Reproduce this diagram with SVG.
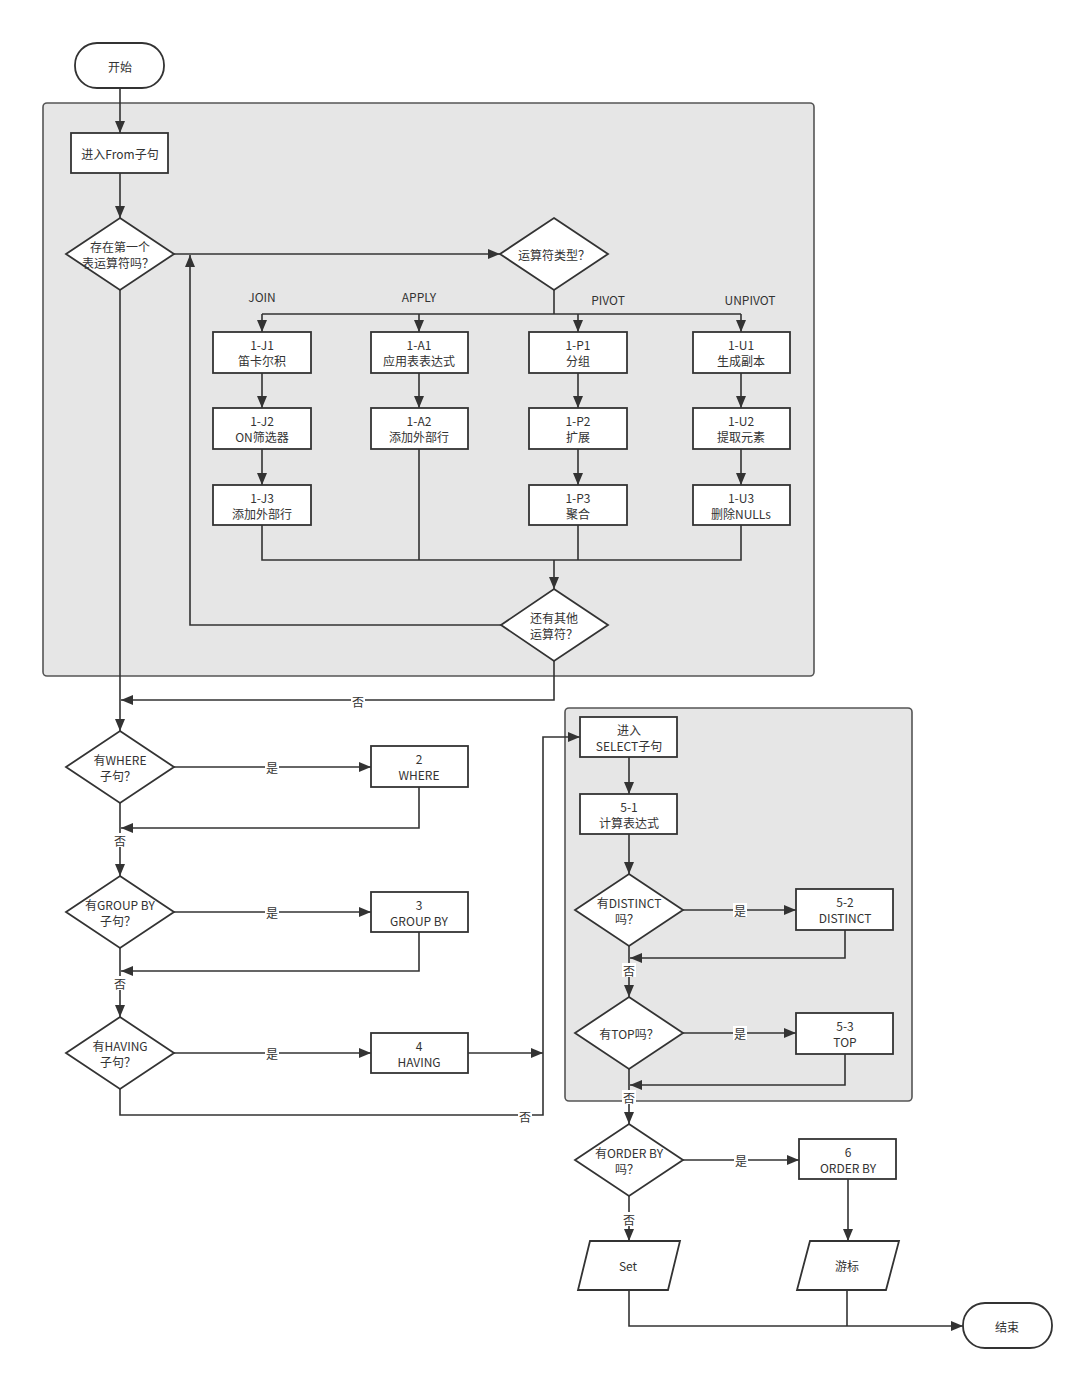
<svg xmlns="http://www.w3.org/2000/svg" width="1080" height="1376" viewBox="0 0 1080 1376">
<style>
.t{font-family:"Noto Sans CJK SC","Microsoft YaHei",sans-serif;font-size:12px;fill:#333;text-anchor:middle;dominant-baseline:central}
.n{fill:#fff;stroke:#333;stroke-width:1.8}
.c{fill:none;stroke:#333;stroke-width:1.6}
.g{fill:#e6e6e6;stroke:#555;stroke-width:1.6}
.lb{fill:#fff}
</style>
<defs>
<marker id="a" markerWidth="12" markerHeight="10" refX="12" refY="5" orient="auto" markerUnits="userSpaceOnUse"><path d="M0,0 L12,5 L0,10 z" fill="#333"/></marker>
</defs>
<rect width="1080" height="1376" fill="#fff"/>
<g id="containers">
<rect id="from-group" class="g" x="43" y="103" width="771" height="573" rx="4"/>
<rect id="select-group" class="g" x="565" y="708" width="347" height="393" rx="4"/>
</g>
<g id="connectors">
<path class="c" marker-end="url(#a)" d="M120,88 V133"/>
<path class="c" marker-end="url(#a)" d="M120,173 V218"/>
<path class="c" marker-end="url(#a)" d="M174,254 H500"/>
<path class="c" d="M554,290 V314 M262,314 H741"/>
<path class="c" marker-end="url(#a)" d="M262,314 V332"/>
<path class="c" marker-end="url(#a)" d="M419,314 V332"/>
<path class="c" marker-end="url(#a)" d="M578,314 V332"/>
<path class="c" marker-end="url(#a)" d="M741,314 V332"/>
<path class="c" marker-end="url(#a)" d="M262,373 V408"/>
<path class="c" marker-end="url(#a)" d="M419,373 V408"/>
<path class="c" marker-end="url(#a)" d="M578,373 V408"/>
<path class="c" marker-end="url(#a)" d="M741,373 V408"/>
<path class="c" marker-end="url(#a)" d="M262,449 V485"/>
<path class="c" marker-end="url(#a)" d="M578,449 V485"/>
<path class="c" marker-end="url(#a)" d="M741,449 V485"/>
<path class="c" d="M262,525 V560 H741 V525 M419,449 V560 M578,525 V560"/>
<path class="c" marker-end="url(#a)" d="M554,560 V589"/>
<path class="c" marker-end="url(#a)" d="M501,625 H190 V255"/>
<path class="c" marker-end="url(#a)" d="M554,661 V700 H121"/>
<path class="c" marker-end="url(#a)" d="M120,290 V731"/>
<path class="c" marker-end="url(#a)" d="M174,767 H371"/>
<path class="c" marker-end="url(#a)" d="M419,787 V828 H121"/>
<path class="c" marker-end="url(#a)" d="M120,803 V876"/>
<path class="c" marker-end="url(#a)" d="M174,912 H371"/>
<path class="c" marker-end="url(#a)" d="M419,932 V971 H121"/>
<path class="c" marker-end="url(#a)" d="M120,948 V1017"/>
<path class="c" marker-end="url(#a)" d="M174,1053 H371"/>
<path class="c" marker-end="url(#a)" d="M468,1053 H543"/>
<path class="c" marker-end="url(#a)" d="M120,1089 V1115 H543 V737 H580"/>
<path class="c" marker-end="url(#a)" d="M629,757 V794"/>
<path class="c" marker-end="url(#a)" d="M629,834 V874"/>
<path class="c" marker-end="url(#a)" d="M683,910 H796"/>
<path class="c" marker-end="url(#a)" d="M845,930 V958 H630"/>
<path class="c" marker-end="url(#a)" d="M629,946 V997"/>
<path class="c" marker-end="url(#a)" d="M683,1033 H796"/>
<path class="c" marker-end="url(#a)" d="M845,1054 V1085 H630"/>
<path class="c" marker-end="url(#a)" d="M629,1069 V1124"/>
<path class="c" marker-end="url(#a)" d="M683,1160 H799"/>
<path class="c" marker-end="url(#a)" d="M848,1179 V1241"/>
<path class="c" marker-end="url(#a)" d="M629,1196 V1241"/>
<path class="c" d="M847,1290 V1326"/>
<path class="c" marker-end="url(#a)" d="M629,1290 V1326 H963"/>
</g>
<g id="labels">
<text class="t" x="262" y="296">JOIN</text>
<text class="t" x="419" y="296">APPLY</text>
<text class="t" x="608" y="299">PIVOT</text>
<text class="t" x="750" y="299">UNPIVOT</text>
<rect class="lb" x="351" y="694" width="14" height="14"/><text class="t" x="358" y="701">否</text>
<rect class="lb" x="265" y="760" width="14" height="14"/><text class="t" x="272" y="767">是</text>
<rect class="lb" x="113" y="833" width="14" height="14"/><text class="t" x="120" y="840">否</text>
<rect class="lb" x="265" y="905" width="14" height="14"/><text class="t" x="272" y="912">是</text>
<rect class="lb" x="113" y="976" width="14" height="14"/><text class="t" x="120" y="983">否</text>
<rect class="lb" x="265" y="1046" width="14" height="14"/><text class="t" x="272" y="1053">是</text>
<rect class="lb" x="518" y="1109" width="14" height="14"/><text class="t" x="525" y="1116">否</text>
<rect class="lb" x="733" y="903" width="14" height="14"/><text class="t" x="740" y="910">是</text>
<rect class="lb" x="622" y="963" width="14" height="14"/><text class="t" x="629" y="970">否</text>
<rect class="lb" x="733" y="1026" width="14" height="14"/><text class="t" x="740" y="1033">是</text>
<rect class="lb" x="622" y="1090" width="14" height="14"/><text class="t" x="629" y="1097">否</text>
<rect class="lb" x="734" y="1153" width="14" height="14"/><text class="t" x="741" y="1160">是</text>
<rect class="lb" x="622" y="1212" width="14" height="14"/><text class="t" x="629" y="1219">否</text>
</g>
<g id="start"><rect class="n" x="75" y="43" width="89" height="45" rx="22"/><text class="t" x="120" y="66">开始</text></g>
<g id="from"><rect class="n" x="71" y="133" width="97" height="40"/><text class="t" x="120" y="153">进入From子句</text></g>
<g id="d-first"><polygon class="n" points="120,218 174,254 120,290 66,254"/><text class="t" x="120" y="246">存在第一个</text><text class="t" x="118" y="262">表运算符吗？</text></g>
<g id="d-type"><polygon class="n" points="554,218 608,254 554,290 500,254"/><text class="t" x="554" y="254">运算符类型？</text></g>
<g id="j1"><rect class="n" x="213" y="332" width="98" height="41"/><text class="t" x="262" y="344">1-J1</text><text class="t" x="262" y="360">笛卡尔积</text></g>
<g id="a1"><rect class="n" x="371" y="332" width="97" height="41"/><text class="t" x="419" y="344">1-A1</text><text class="t" x="419" y="360">应用表表达式</text></g>
<g id="p1"><rect class="n" x="529" y="332" width="98" height="41"/><text class="t" x="578" y="344">1-P1</text><text class="t" x="578" y="360">分组</text></g>
<g id="u1"><rect class="n" x="693" y="332" width="97" height="41"/><text class="t" x="741" y="344">1-U1</text><text class="t" x="741" y="360">生成副本</text></g>
<g id="j2"><rect class="n" x="213" y="408" width="98" height="41"/><text class="t" x="262" y="420">1-J2</text><text class="t" x="262" y="436">ON筛选器</text></g>
<g id="a2"><rect class="n" x="371" y="408" width="97" height="41"/><text class="t" x="419" y="420">1-A2</text><text class="t" x="419" y="436">添加外部行</text></g>
<g id="p2"><rect class="n" x="529" y="408" width="98" height="41"/><text class="t" x="578" y="420">1-P2</text><text class="t" x="578" y="436">扩展</text></g>
<g id="u2"><rect class="n" x="693" y="408" width="97" height="41"/><text class="t" x="741" y="420">1-U2</text><text class="t" x="741" y="436">提取元素</text></g>
<g id="j3"><rect class="n" x="213" y="485" width="98" height="40"/><text class="t" x="262" y="497">1-J3</text><text class="t" x="262" y="513">添加外部行</text></g>
<g id="p3"><rect class="n" x="529" y="485" width="98" height="40"/><text class="t" x="578" y="497">1-P3</text><text class="t" x="578" y="513">聚合</text></g>
<g id="u3"><rect class="n" x="693" y="485" width="97" height="40"/><text class="t" x="741" y="497">1-U3</text><text class="t" x="741" y="513">删除NULLs</text></g>
<g id="d-more"><polygon class="n" points="554,589 608,625 554,661 501,625"/><text class="t" x="554" y="617">还有其他</text><text class="t" x="554" y="633">运算符？</text></g>
<g id="d-where"><polygon class="n" points="120,731 174,767 120,803 66,767"/><text class="t" x="120" y="759">有WHERE</text><text class="t" x="118" y="775">子句？</text></g>
<g id="where"><rect class="n" x="371" y="746" width="97" height="41"/><text class="t" x="419" y="758">2</text><text class="t" x="419" y="774">WHERE</text></g>
<g id="d-group"><polygon class="n" points="120,876 174,912 120,948 66,912"/><text class="t" x="120" y="904">有GROUP BY</text><text class="t" x="118" y="920">子句？</text></g>
<g id="group"><rect class="n" x="371" y="892" width="97" height="40"/><text class="t" x="419" y="904">3</text><text class="t" x="419" y="920">GROUP BY</text></g>
<g id="d-having"><polygon class="n" points="120,1017 174,1053 120,1089 66,1053"/><text class="t" x="120" y="1045">有HAVING</text><text class="t" x="118" y="1061">子句？</text></g>
<g id="having"><rect class="n" x="371" y="1033" width="97" height="40"/><text class="t" x="419" y="1045">4</text><text class="t" x="419" y="1061">HAVING</text></g>
<g id="select"><rect class="n" x="580" y="717" width="97" height="40"/><text class="t" x="629" y="729">进入</text><text class="t" x="629" y="745">SELECT子句</text></g>
<g id="s51"><rect class="n" x="580" y="794" width="97" height="40"/><text class="t" x="629" y="806">5-1</text><text class="t" x="629" y="822">计算表达式</text></g>
<g id="d-distinct"><polygon class="n" points="629,874 683,910 629,946 575,910"/><text class="t" x="629" y="902">有DISTINCT</text><text class="t" x="627" y="918">吗？</text></g>
<g id="s52"><rect class="n" x="796" y="889" width="97" height="41"/><text class="t" x="845" y="901">5-2</text><text class="t" x="845" y="917">DISTINCT</text></g>
<g id="d-top"><polygon class="n" points="629,997 683,1033 629,1069 575,1033"/><text class="t" x="629" y="1033">有TOP吗？</text></g>
<g id="s53"><rect class="n" x="796" y="1013" width="97" height="41"/><text class="t" x="845" y="1025">5-3</text><text class="t" x="845" y="1041">TOP</text></g>
<g id="d-order"><polygon class="n" points="629,1124 683,1160 629,1196 575,1160"/><text class="t" x="629" y="1152">有ORDER BY</text><text class="t" x="627" y="1168">吗？</text></g>
<g id="order"><rect class="n" x="799" y="1139" width="97" height="40"/><text class="t" x="848" y="1151">6</text><text class="t" x="848" y="1167">ORDER BY</text></g>
<g id="set"><polygon class="n" points="590,1241 680,1241 668,1290 578,1290"/><text class="t" x="628" y="1265">Set</text></g>
<g id="cursor"><polygon class="n" points="810,1241 899,1241 886,1290 797,1290"/><text class="t" x="847" y="1265">游标</text></g>
<g id="end"><rect class="n" x="963" y="1303" width="89" height="45" rx="22"/><text class="t" x="1007" y="1326">结束</text></g>
</svg>
